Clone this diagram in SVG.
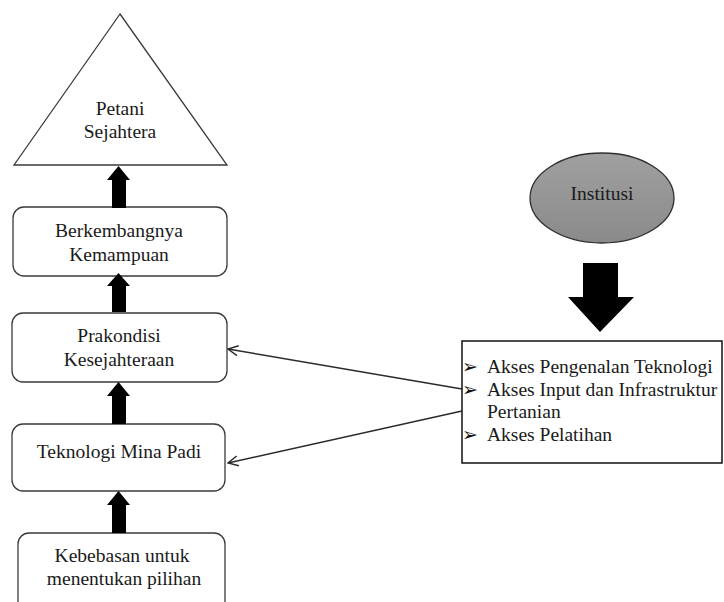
<svg xmlns="http://www.w3.org/2000/svg" width="724" height="602" viewBox="0 0 724 602">
  <defs>
    <style>
      .lbl { font-family: "Liberation Serif", "Times New Roman", serif; font-size: 19.5px; fill: #1a1a1a; }
      .mid { text-anchor: middle; }
      .box { fill: #ffffff; stroke: #3a3a3a; stroke-width: 1.3; }
      .blk { fill: #000000; }
      .conn { fill: none; stroke: #2a2a2a; stroke-width: 1.4; }
      .bul { font-family: "DejaVu Sans", sans-serif; font-size: 19px; fill: #111111; }
    </style>
    <linearGradient id="grey" x1="0" y1="0" x2="0" y2="1">
      <stop offset="0" stop-color="#a0a0a0"/>
      <stop offset="1" stop-color="#8a8a8a"/>
    </linearGradient>
    <marker id="open" viewBox="0 0 12 12" refX="11" refY="6" markerWidth="12" markerHeight="12" markerUnits="userSpaceOnUse" orient="auto">
      <path d="M1,1 L11,6 L1,11" fill="none" stroke="#2a2a2a" stroke-width="1.4"/>
    </marker>
  </defs>

  <!-- goal triangle -->
  <g id="petani-sejahtera">
    <polygon class="box" points="120,14 14,165 227,165"/>
    <text class="lbl mid" x="120" y="115">Petani</text>
    <text class="lbl mid" x="120" y="138">Sejahtera</text>
  </g>

  <g id="berkembangnya">
    <rect class="box" x="13" y="207" width="214" height="69" rx="11"/>
    <text class="lbl mid" x="119" y="237">Berkembangnya</text>
    <text class="lbl mid" x="119" y="261">Kemampuan</text>
  </g>

  <g id="prakondisi">
    <rect class="box" x="12" y="313" width="215" height="69" rx="11"/>
    <text class="lbl mid" x="119" y="342">Prakondisi</text>
    <text class="lbl mid" x="119" y="366">Kesejahteraan</text>
  </g>

  <g id="teknologi">
    <rect class="box" x="12" y="424" width="213" height="67" rx="11"/>
    <text class="lbl mid" x="119" y="458">Teknologi Mina Padi</text>
  </g>

  <g id="kebebasan">
    <rect class="box" x="18" y="533" width="207" height="85" rx="11"/>
    <text class="lbl mid" x="122" y="562">Kebebasan untuk</text>
    <text class="lbl mid" x="124" y="585">menentukan pilihan</text>
  </g>

  <g id="institusi">
    <ellipse cx="602" cy="198" rx="72" ry="45" fill="url(#grey)" stroke="#2e2e2e" stroke-width="1.3"/>
    <text class="lbl mid" x="602" y="200">Institusi</text>
  </g>

  <g id="akses">
    <rect x="462" y="341" width="260" height="122" fill="#ffffff" stroke="#111111" stroke-width="1.5"/>
    <text class="bul" x="462" y="373">➢</text>
    <text class="lbl" x="487" y="373">Akses Pengenalan Teknologi</text>
    <text class="bul" x="462" y="396">➢</text>
    <text class="lbl" x="487" y="396">Akses Input dan Infrastruktur</text>
    <text class="lbl" x="487" y="418">Pertanian</text>
    <text class="bul" x="462" y="441">➢</text>
    <text class="lbl" x="487" y="441">Akses Pelatihan</text>
  </g>

  <g id="connectors">
    <!-- block arrows up the left column -->
    <polygon class="blk" points="118.5,166 130,180 126,180 126,208 112,208 112,180 107,180"/>
    <polygon class="blk" points="118.5,273 130,286 126,286 126,312 112,312 112,286 107,286"/>
    <polygon class="blk" points="118.5,382 130,396 126,396 126,424 112,424 112,396 107,396"/>
    <polygon class="blk" points="118.5,491 130,505 126,505 126,533 112,533 112,505 107,505"/>
    <!-- block arrow down from institusi -->
    <polygon class="blk" points="583,263 618,263 618,297 634,297 600,332 568,297 583,297"/>
    <!-- thin arrows from the access box -->
    <line class="conn" x1="462" y1="389" x2="228" y2="349" marker-end="url(#open)"/>
    <line class="conn" x1="462" y1="411" x2="228" y2="463" marker-end="url(#open)"/>
  </g>
</svg>
